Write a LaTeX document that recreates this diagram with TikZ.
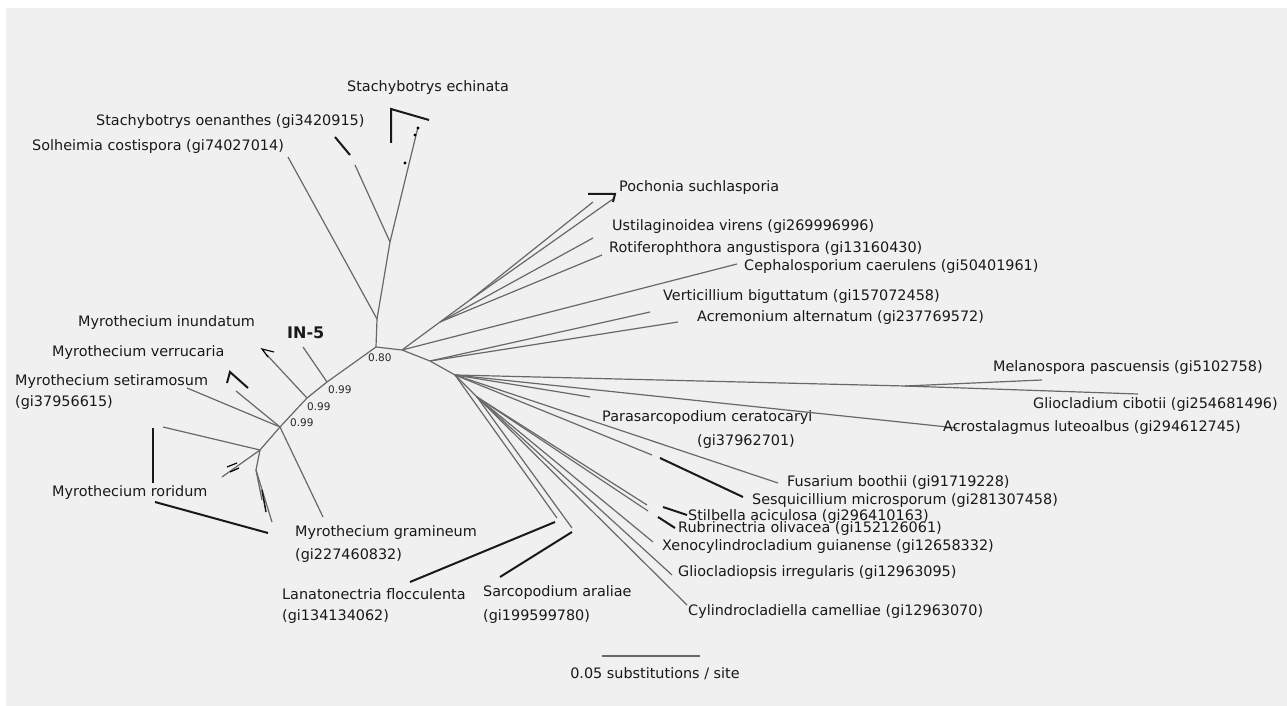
\documentclass[tikz,border=0pt]{standalone}
\usepackage{fontspec}
\setmainfont{DejaVu Sans}
\usetikzlibrary{positioning}
\definecolor{bggray}{HTML}{F0F0F0}
\definecolor{treegray}{HTML}{686868}

\begin{document}
\begin{tikzpicture}[x=1bp,y=-1bp,
    treeline/.style={draw=treegray, line width=1.2bp},
    blackbar/.style={draw=black!90, line width=2bp},
    taxon/.style={anchor=west, inner sep=0pt, text=black!90, font=\fontsize{14.4bp}{17bp}\selectfont},
    boot/.style={anchor=west, inner sep=0pt, text=black!85, font=\fontsize{10.5bp}{12bp}\selectfont}]
    \useasboundingbox (0,0) rectangle (1287,706);
    \fill[bggray] (6,8) rectangle (1287,706);

    \coordinate (nA) at (376,347);
    \coordinate (nB) at (377,319);
    \coordinate (nC) at (390,242);
    \coordinate (nN1) at (327,382);
    \coordinate (nN2) at (307,398);
    \coordinate (nN3) at (280,427);
    \coordinate (nN4) at (260,450);
    \coordinate (nN5) at (256,470);
    \coordinate (nR1) at (402,350);
    \coordinate (nR2) at (430,361);
    \coordinate (nR3) at (455,375);
    \coordinate (nR4) at (477,397);
    \coordinate (nP) at (440,322);
    \coordinate (nQ) at (470,300);
    \coordinate (nM) at (905,386);

    \coordinate (tOen) at (355,165);
    \coordinate (tEch) at (418,127);
    \coordinate (tSol) at (288,157);
    \coordinate (tIN5) at (303,347);
    \coordinate (tInu) at (267,355);
    \coordinate (tVerr) at (236,391);
    \coordinate (tSet) at (187,388);
    \coordinate (tGra) at (323,517);
    \coordinate (tRor1) at (163,427);
    \coordinate (tRor2) at (222,477);
    \coordinate (tRor3) at (262,500);
    \coordinate (tRor4) at (272,522);
    \coordinate (tPo1) at (593,202);
    \coordinate (tPo2) at (613,199);
    \coordinate (tUst) at (593,238);
    \coordinate (tRot) at (602,255);
    \coordinate (tCep) at (737,264);
    \coordinate (tVert) at (650,312);
    \coordinate (tAcr) at (678,322);
    \coordinate (tMel) at (1042,380);
    \coordinate (tGcb) at (1138,394);
    \coordinate (tAcs) at (957,428);
    \coordinate (tPar) at (590,397);
    \coordinate (tFus) at (778,483);
    \coordinate (tSes) at (652,455);
    \coordinate (tLan) at (557,518);
    \coordinate (tSti) at (647,505);
    \coordinate (tRub) at (648,511);
    \coordinate (tXen) at (653,542);
    \coordinate (tGlp) at (672,575);
    \coordinate (tCyl) at (687,605);
    \coordinate (tSar) at (572,528);

    \draw[treeline] (nN4) -- (nN3) -- (nN2) -- (nN1) -- (nA) -- (nB) -- (nC);
    \draw[treeline] (nA) -- (nR1) -- (nR2) -- (nR3) -- (nR4);
    \draw[treeline] (nC) -- (tOen);
    \draw[treeline] (nC) -- (tEch);
    \draw[treeline] (nB) -- (tSol);
    \draw[treeline] (nN1) -- (tIN5);
    \draw[treeline] (nN2) -- (tInu);
    \draw[treeline] (nN3) -- (tVerr);
    \draw[treeline] (nN3) -- (tSet);
    \draw[treeline] (nN3) -- (tGra);
    \draw[treeline] (nN4) -- (tRor1);
    \draw[treeline] (nN4) -- (tRor2);
    \draw[treeline] (nN4) -- (nN5) -- (tRor3);
    \draw[treeline] (nN5) -- (tRor4);
    \draw[treeline] (nR1) -- (nP) -- (nQ) -- (tPo1);
    \draw[treeline] (nQ) -- (tPo2);
    \draw[treeline] (nP) -- (tUst);
    \draw[treeline] (nP) -- (tRot);
    \draw[treeline] (nR1) -- (tCep);
    \draw[treeline] (nR2) -- (tVert);
    \draw[treeline] (nR2) -- (tAcr);
    \draw[treeline] (nR3) -- (nM) -- (tMel);
    \draw[treeline] (nM) -- (tGcb);
    \draw[treeline] (nR3) -- (tAcs);
    \draw[treeline] (nR3) -- (tPar);
    \draw[treeline] (nR3) -- (tFus);
    \draw[treeline] (nR3) -- (tSes);
    \draw[treeline] (nR3) -- (tLan);
    \draw[treeline] (nR4) -- (tSti);
    \draw[treeline] (nR4) -- (tRub);
    \draw[treeline] (nR4) -- (tXen);
    \draw[treeline] (nR4) -- (tGlp);
    \draw[treeline] (nR4) -- (tCyl);
    \draw[treeline] (nR4) -- (tSar);

    \draw[blackbar] (335,137) -- (350,155);
    \draw[blackbar] (391,143) -- (391,109) -- (429,120);
    \fill[black] (405,163) circle (1.6) (415,135) circle (1.6) (418,128) circle (1.6);
    \draw[treeline, draw=black] (274,352) -- (262,349) -- (268,357);
    \draw[blackbar] (227,383) -- (230,372) -- (248,388);
    \draw[blackbar] (153,428) -- (153,483);
    \draw[blackbar] (155,502) -- (268,533);
    \draw[treeline, draw=black] (227,467) -- (237,463) (230,472) -- (239,468);
    \draw[blackbar, line width=1.5bp] (262,490) -- (266,512);
    \draw[blackbar] (588,194) -- (615,194) -- (613,202);
    \draw[blackbar] (660,458) -- (743,497);
    \draw[blackbar] (555,522) -- (410,582);
    \draw[blackbar] (663,507) -- (687,515);
    \draw[blackbar] (658,517) -- (675,528);
    \draw[blackbar] (572,532) -- (500,577);

    \node[taxon] (ech) at (347,88) {Stachybotrys echinata};
    \node[taxon] (oen) at (96,122) {Stachybotrys oenanthes (gi3420915)};
    \node[taxon] (sol) at (32,147) {Solheimia costispora (gi74027014)};
    \node[taxon] (inu) at (78,323) {Myrothecium inundatum};
    \node[taxon, font=\fontsize{16bp}{18bp}\selectfont\bfseries] (in5) at (287,333) {IN-5};
    \node[taxon] (verr) at (52,353) {Myrothecium verrucaria};
    \node[taxon] (set) at (15,382) {Myrothecium setiramosum};
    \node[taxon, below=21bp of set.west, anchor=west] (setgi) {(gi37956615)};
    \node[taxon] (ror) at (52,493) {Myrothecium roridum};
    \node[taxon] (gra) at (295,533) {Myrothecium gramineum};
    \node[taxon, below=23bp of gra.west, anchor=west] (gragi) {(gi227460832)};
    \node[taxon] (lan) at (282,594) {Lanatonectria flocculenta};
    \node[taxon, below=23bp of lan.west, anchor=west] (langi) {(gi134134062)};
    \node[taxon] (sar) at (483,593) {Sarcopodium araliae};
    \node[taxon, below=24bp of sar.west, anchor=west] (sargi) {(gi199599780)};
    \node[taxon] (poc) at (619,188) {Pochonia suchlasporia};
    \node[taxon] (ust) at (612,227) {Ustilaginoidea virens (gi269996996)};
    \node[taxon] (rot) at (609,249) {Rotiferophthora angustispora (gi13160430)};
    \node[taxon] (cep) at (744,267) {Cephalosporium caerulens (gi50401961)};
    \node[taxon] (vert) at (663,297) {Verticillium biguttatum (gi157072458)};
    \node[taxon] (acr) at (697,318) {Acremonium alternatum (gi237769572)};
    \node[taxon] (mel) at (993,368) {Melanospora pascuensis (gi5102758)};
    \node[taxon] (gcb) at (1033,405) {Gliocladium cibotii (gi254681496)};
    \node[taxon] (acs) at (943,428) {Acrostalagmus luteoalbus (gi294612745)};
    \node[taxon] (par) at (602,418) {Parasarcopodium ceratocaryi};
    \node[taxon] (pargi) at (697,442) {(gi37962701)};
    \node[taxon] (fus) at (787,483) {Fusarium boothii (gi91719228)};
    \node[taxon] (ses) at (752,501) {Sesquicillium microsporum (gi281307458)};
    \node[taxon] (sti) at (688,517) {Stilbella aciculosa (gi296410163)};
    \node[taxon] (rub) at (678,529) {Rubrinectria olivacea (gi152126061)};
    \node[taxon] (xen) at (662,547) {Xenocylindrocladium guianense (gi12658332)};
    \node[taxon] (glp) at (678,573) {Gliocladiopsis irregularis (gi12963095)};
    \node[taxon] (cyl) at (688,612) {Cylindrocladiella camelliae (gi12963070)};

    \node[boot] (bA) at (368,358) {0.80};
    \node[boot] (bN1) at (328,390) {0.99};
    \node[boot] (bN2) at (307,407) {0.99};
    \node[boot] (bN3) at (290,423) {0.99};

    \coordinate (sbL) at (602,656);
    \coordinate (sbR) at (700,656);
    \draw[treeline] (sbL) -- (sbR);
    \node[taxon, anchor=center] (sblab) at (655,674) {0.05 substitutions / site};
\end{tikzpicture}
\end{document}
